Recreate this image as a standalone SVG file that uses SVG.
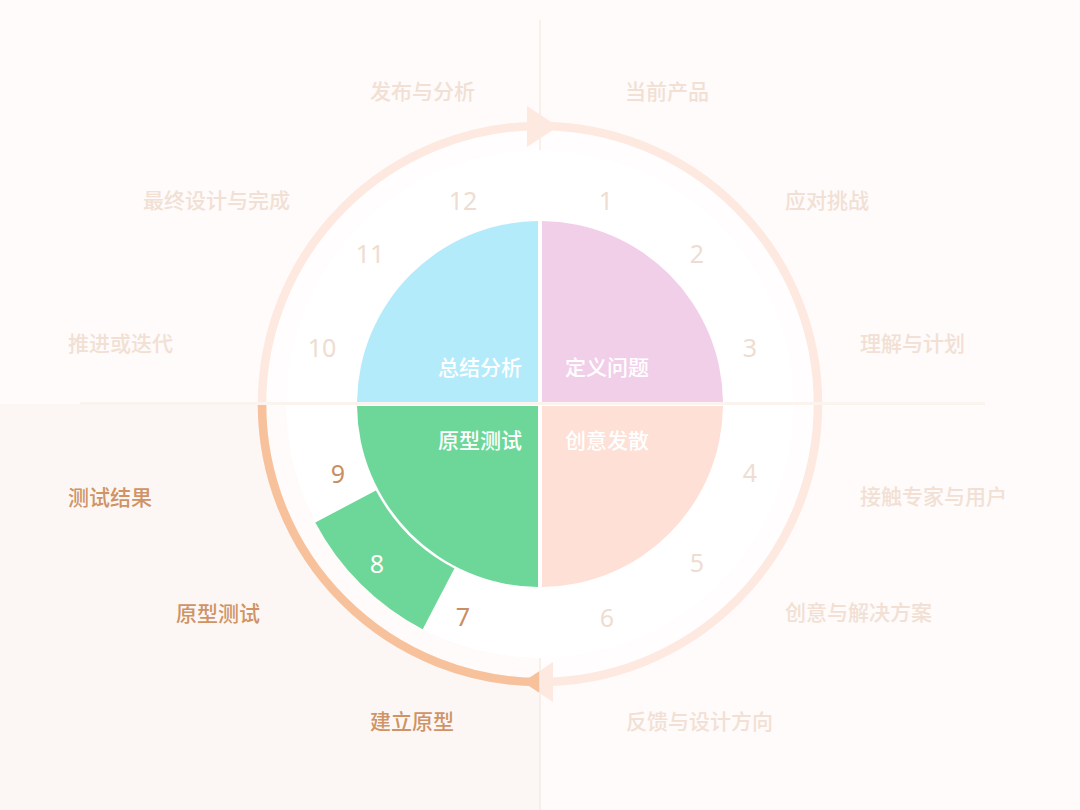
<svg xmlns="http://www.w3.org/2000/svg" width="1080" height="810" viewBox="0 0 1080 810">
<style>
.lbl{font-family:"Noto Sans CJK SC","Noto Sans",sans-serif;font-size:21px;font-weight:500;dominant-baseline:central}
.faint{fill:#f2e0d4}
.dark{fill:#cf9365}
.inner{font-family:"Noto Sans CJK SC","Noto Sans",sans-serif;font-size:21px;font-weight:500;fill:#ffffff;dominant-baseline:central}
.num{font-family:"Noto Sans","Liberation Sans",sans-serif;font-size:25px;text-anchor:middle;dominant-baseline:central;fill:#efddd1}
.numd{fill:#c98e62}
.numw{fill:#ffffff}
</style>
<rect x="0" y="0" width="1080" height="810" fill="#fefbfa"/>
<rect x="0" y="404" width="540" height="406" fill="#fcf7f4"/>
<g id="connectors">
  <circle cx="540" cy="404" r="264" fill="none" stroke="#ffffff" stroke-opacity="0.5" stroke-width="20"/>
  <circle cx="540" cy="404" r="278" fill="none" stroke="#fde9df" stroke-width="8.5"/>
  <polygon points="527,106 527,147 558,126.5" fill="#fde9df"/>
  <polygon points="553,662 553,702 523,682" fill="#fde9df"/>
  <path d="M 262 404 A 278 278 0 0 0 540 682" fill="none" stroke="#f7c29b" stroke-width="8.5"/>
  <polygon points="540,670.7 540,693.3 523,682" fill="#f7c29b"/>
  <line x1="540" y1="20" x2="540" y2="810" stroke="#f7ebe4" stroke-width="1.5"/>
</g>
<circle cx="540" cy="404" r="254" fill="#ffffff"/>
<line x1="80" y1="403.5" x2="985" y2="403.5" stroke="#fbf3ee" stroke-width="3"/>
<g id="q-summary"><path d="M 538 402 L 538 221.01 A 183 183 0 0 0 357.01 402 Z" fill="#b3ebfb"/><text class="inner" x="522" y="366" text-anchor="end">总结分析</text></g>
<g id="q-define"><path d="M 542 402 L 542 221.01 A 183 183 0 0 1 722.99 402 Z" fill="#f2cfe9"/><text class="inner" x="565" y="366">定义问题</text></g>
<g id="q-ideate"><path d="M 542 406 L 722.99 406 A 183 183 0 0 1 542 586.99 Z" fill="#fee0d6"/><text class="inner" x="565" y="439">创意发散</text></g>
<g id="q-prototype"><path d="M 538 406 L 538 586.99 A 183 183 0 0 1 357.01 406 Z" fill="#6cd798"/><text class="inner" x="522" y="439" text-anchor="end">原型测试</text></g>
<g id="seg8"><path d="M 422.7 629.3 A 254 254 0 0 1 315.3 522.5 L 375.9 490.5 A 185.5 185.5 0 0 0 454.4 568.5 Z" fill="#6cd798"/></g>
<g id="numbers">
  <text class="num" x="606" y="200">1</text>
  <text class="num" x="697" y="253">2</text>
  <text class="num" x="750" y="347">3</text>
  <text class="num" x="750" y="472">4</text>
  <text class="num" x="697" y="562">5</text>
  <text class="num" x="607" y="617">6</text>
  <text class="num numd" x="463" y="616">7</text>
  <text class="num numw" x="377" y="563">8</text>
  <text class="num numd" x="338" y="473">9</text>
  <text class="num" x="322" y="347">10</text>
  <text class="num" x="370" y="253">11</text>
  <text class="num" x="463" y="200">12</text>
</g>
<g id="labels">
  <text class="lbl faint" x="370" y="90">发布与分析</text>
  <text class="lbl faint" x="625" y="90">当前产品</text>
  <text class="lbl faint" x="143" y="199">最终设计与完成</text>
  <text class="lbl faint" x="785" y="199">应对挑战</text>
  <text class="lbl faint" x="68" y="342">推进或迭代</text>
  <text class="lbl faint" x="860" y="342">理解与计划</text>
  <text class="lbl dark" x="68" y="496">测试结果</text>
  <text class="lbl faint" x="860" y="495">接触专家与用户</text>
  <text class="lbl dark" x="176" y="612">原型测试</text>
  <text class="lbl faint" x="785" y="611">创意与解决方案</text>
  <text class="lbl dark" x="370" y="720">建立原型</text>
  <text class="lbl faint" x="626" y="720">反馈与设计方向</text>
</g>
</svg>
